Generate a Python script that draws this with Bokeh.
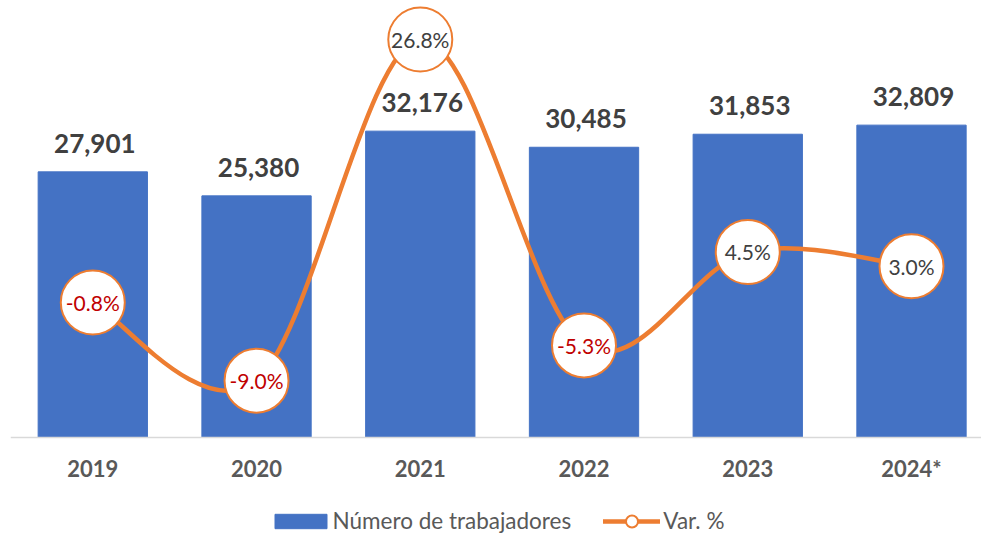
from bokeh.plotting import figure
from bokeh.models import ColumnDataSource, Range1d, FixedTicker, Legend, LegendItem
from bokeh.core.properties import value
from bokeh.embed import file_html
from bokeh.resources import INLINE

# ---- data ----
years = ["2019", "2020", "2021", "2022", "2023", "2024*"]
workers = [27901, 25380, 32176, 30485, 31853, 32809]
var_pct = [-0.8, -9.0, 26.8, -5.3, 4.5, 3.0]

BLUE = "#4472C4"
ORANGE = "#ED7D31"
NEG = "#C00000"
POS = "#404040"

xs = list(range(len(years)))

src = ColumnDataSource(dict(
    x=xs,
    workers=workers,
    w_label=[f"{v:,}" for v in workers],
    pct=var_pct,
    pct_label=[f"{v:.1f}%" for v in var_pct],
    pct_color=[NEG if v < 0 else POS for v in var_pct],
))

# smooth (Excel-like) curve: cubic Bezier segments through the data points
n = len(xs)
seg = dict(x0=[], y0=[], x1=[], y1=[], cx0=[], cy0=[], cx1=[], cy1=[])
for i in range(n - 1):
    ip = i - 1 if i > 0 else i
    inn = i + 2 if i + 2 < n else i + 1
    seg["x0"].append(xs[i]); seg["y0"].append(var_pct[i])
    seg["x1"].append(xs[i + 1]); seg["y1"].append(var_pct[i + 1])
    seg["cx0"].append(xs[i] + (xs[i + 1] - xs[ip]) / 6)
    seg["cy0"].append(var_pct[i] + (var_pct[i + 1] - var_pct[ip]) / 6)
    seg["cx1"].append(xs[i + 1] - (xs[inn] - xs[i]) / 6)
    seg["cy1"].append(var_pct[i + 1] - (var_pct[inn] - var_pct[i]) / 6)
seg_src = ColumnDataSource(seg)

p = figure(width=981, height=533, output_backend="svg", toolbar_location=None,
           x_range=Range1d(-0.5026, 5.4275), y_range=Range1d(-10083, 45899),
           y_axis_location=None, min_border_left=10, min_border_right=0,
           min_border_top=0, min_border_bottom=0)
p.extra_y_ranges = {"pct": Range1d(-25.04, 30.89)}
p.xgrid.visible = False
p.ygrid.visible = False
p.outline_line_color = None
p.background_fill_color = "white"

bars = p.vbar(x="x", top="workers", bottom=0, width=0.6675, source=src,
              fill_color=BLUE, line_color=BLUE)

curve = p.bezier(x0="x0", y0="y0", x1="x1", y1="y1", cx0="cx0", cy0="cy0",
                 cx1="cx1", cy1="cy1", source=seg_src, y_range_name="pct",
                 line_color=ORANGE, line_width=4.5, line_cap="round")

circles = p.scatter(x="x", y="pct", source=src, y_range_name="pct", size=64,
                    fill_color="white", line_color=ORANGE, line_width=2)

p.text(x="x", y="pct", text="pct_label", source=src, y_range_name="pct",
       text_color="pct_color", text_font=value("Lato"), text_font_size="21px",
       text_align="center", text_baseline="middle")

p.text(x="x", y="workers", text="w_label", source=src, y_offset=-28.5, x_offset=2,
       text_color=POS, text_font=value("Lato"), text_font_style="bold",
       text_font_size="26px", text_align="center", text_baseline="middle")

ax = p.xaxis[0]
ax.fixed_location = 0
ax.ticker = FixedTicker(ticks=xs)
ax.major_label_overrides = {i: y for i, y in zip(xs, years)}
ax.axis_line_color = "#D9D9D9"
ax.axis_line_width = 1.5
ax.major_tick_line_color = None
ax.minor_tick_line_color = None
ax.major_label_standoff = 11
ax.major_label_text_font = "Lato"
ax.major_label_text_font_style = "bold"
ax.major_label_text_font_size = "22px"
ax.major_label_text_color = "#595959"

common = dict(orientation="horizontal", padding=0, margin=0, border_line_color=None,
              background_fill_alpha=0, label_text_font="Lato",
              label_text_font_size="22.5px", label_text_color="#595959")
leg1 = Legend(items=[LegendItem(label="Número de trabajadores", renderers=[bars])],
              location=(257.5, -1.2), glyph_width=65, glyph_height=18,
              label_standoff=0, **common)
leg2 = Legend(items=[LegendItem(label="Var. %", renderers=[curve, circles])],
              location=(593.3, -2.7), glyph_width=57, glyph_height=30,
              label_standoff=3, **common)
p.add_layout(leg1)
p.add_layout(leg2)

open("out.html", "w").write(file_html(p, INLINE))
